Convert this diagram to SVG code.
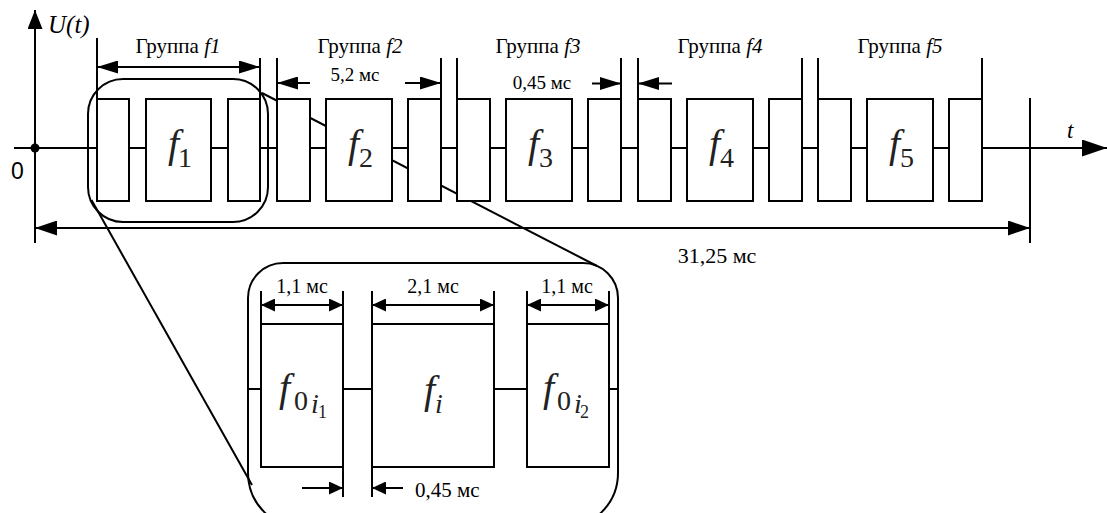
<svg xmlns="http://www.w3.org/2000/svg" width="1107" height="513" viewBox="0 0 1107 513">
<style>
.ln{stroke:#000;stroke-width:2;fill:none}
.bx{stroke:#000;stroke-width:2;fill:#fff}
text{font-family:'Liberation Serif','Times New Roman',serif;fill:#000}
.sans{font-family:'Liberation Sans',Arial,sans-serif}
.it{font-style:italic}
.mth{fill:#222}
</style>
<defs>
<marker id="a21" viewBox="0 0 21 13" refX="21" refY="6.5" markerWidth="21" markerHeight="13" markerUnits="userSpaceOnUse" orient="auto-start-reverse"><path d="M0,0 L21,6.5 L0,13 z"/></marker>
<marker id="a22" viewBox="0 0 22 15" refX="22" refY="7.5" markerWidth="22" markerHeight="15" markerUnits="userSpaceOnUse" orient="auto-start-reverse"><path d="M0,0 L22,7.5 L0,15 z"/></marker>
<marker id="a25" viewBox="0 0 25 17" refX="25" refY="8.5" markerWidth="25" markerHeight="17" markerUnits="userSpaceOnUse" orient="auto-start-reverse"><path d="M0,0 L25,8.5 L0,17 z"/></marker>
<marker id="a19" viewBox="0 0 19 15" refX="19" refY="7.5" markerWidth="19" markerHeight="15" markerUnits="userSpaceOnUse" orient="auto-start-reverse"><path d="M0,0 L19,7.5 L0,15 z"/></marker>
<marker id="a14" viewBox="0 0 14 13" refX="14" refY="6.5" markerWidth="14" markerHeight="13" markerUnits="userSpaceOnUse" orient="auto-start-reverse"><path d="M0,0 L14,6.5 L0,13 z"/></marker>
</defs>
<rect width="1107" height="513" fill="#fff"/>

<g id="axes">
<line class="ln" x1="35" y1="243" x2="35" y2="10" marker-end="url(#a19)"/>
<line class="ln" x1="14" y1="148" x2="1107" y2="148" marker-end="url(#a25)"/>
<circle cx="35" cy="148" r="4.5" fill="#000"/>
<line class="ln" x1="1030" y1="98" x2="1030" y2="243"/>
<text class="it" x="48" y="33" font-size="25">U(t)</text>
<text class="sans" x="11" y="179" font-size="23">0</text>
<text class="it" x="1067" y="138" font-size="23">t</text>
</g>

<g id="connectors">
<line class="ln" x1="262" y1="93" x2="597" y2="266"/>
<line class="ln" x1="91.5" y1="200" x2="252" y2="485"/>
<line class="ln" x1="248" y1="389" x2="618" y2="389"/>
<line class="ln" x1="35" y1="228" x2="1030" y2="228" marker-start="url(#a22)" marker-end="url(#a22)"/>
<line class="ln" x1="97" y1="67" x2="260" y2="67" marker-start="url(#a21)" marker-end="url(#a21)"/>
<line class="ln" x1="310" y1="83" x2="277" y2="83" marker-end="url(#a21)"/>
<line class="ln" x1="405" y1="83" x2="441" y2="83" marker-end="url(#a21)"/>
<line class="ln" x1="592" y1="83.5" x2="621" y2="83.5" marker-end="url(#a21)"/>
<line class="ln" x1="672" y1="83.5" x2="638" y2="83.5" marker-end="url(#a21)"/>
<line class="ln" x1="97" y1="38" x2="97" y2="99"/>
<line class="ln" x1="260" y1="58" x2="260" y2="99"/>
<line class="ln" x1="277" y1="58" x2="277" y2="99"/>
<line class="ln" x1="441" y1="58" x2="441" y2="99"/>
<line class="ln" x1="457" y1="58" x2="457" y2="99"/>
<line class="ln" x1="621" y1="58" x2="621" y2="99"/>
<line class="ln" x1="638" y1="58" x2="638" y2="99"/>
<line class="ln" x1="802" y1="58" x2="802" y2="99"/>
<line class="ln" x1="818" y1="58" x2="818" y2="99"/>
<line class="ln" x1="982" y1="58" x2="982" y2="99"/>
</g>

<g id="group-f1">
<rect class="bx" x="97" y="99" width="32" height="102"/>
<rect class="bx" x="146" y="99" width="65" height="102"/>
<rect class="bx" x="228" y="99" width="32" height="102"/>
<text class="mth it" x="168" y="157" font-size="40">f</text><text class="mth" x="178" y="167" font-size="28">1</text>
<text x="178" y="53" font-size="21" text-anchor="middle">Группа <tspan class="it">f1</tspan></text>
</g>
<g id="group-f2">
<rect class="bx" x="277" y="99" width="33" height="102"/>
<rect class="bx" x="326" y="99" width="66" height="102"/>
<rect class="bx" x="408" y="99" width="33" height="102"/>
<text class="mth it" x="348" y="157" font-size="40">f</text><text class="mth" x="359" y="167" font-size="28">2</text>
<text x="360" y="53" font-size="21" text-anchor="middle">Группа <tspan class="it">f2</tspan></text>
</g>
<g id="group-f3">
<rect class="bx" x="457" y="99" width="33" height="102"/>
<rect class="bx" x="506" y="99" width="66" height="102"/>
<rect class="bx" x="588" y="99" width="33" height="102"/>
<text class="mth it" x="528" y="157" font-size="40">f</text><text class="mth" x="539" y="167" font-size="28">3</text>
<text x="538" y="53" font-size="21" text-anchor="middle">Группа <tspan class="it">f3</tspan></text>
</g>
<g id="group-f4">
<rect class="bx" x="638" y="99" width="33" height="102"/>
<rect class="bx" x="687" y="99" width="66" height="102"/>
<rect class="bx" x="769" y="99" width="33" height="102"/>
<text class="mth it" x="709" y="157" font-size="40">f</text><text class="mth" x="720" y="167" font-size="28">4</text>
<text x="720" y="53" font-size="21" text-anchor="middle">Группа <tspan class="it">f4</tspan></text>
</g>
<g id="group-f5">
<rect class="bx" x="818" y="99" width="33" height="102"/>
<rect class="bx" x="867" y="99" width="66" height="102"/>
<rect class="bx" x="949" y="99" width="33" height="102"/>
<text class="mth it" x="889" y="157" font-size="40">f</text><text class="mth" x="900" y="167" font-size="28">5</text>
<text x="900" y="53" font-size="21" text-anchor="middle">Группа <tspan class="it">f5</tspan></text>
</g>

<g id="dim-labels">
<text x="355" y="81" font-size="19" text-anchor="middle">5,2 мс</text>
<text x="542" y="89" font-size="19" text-anchor="middle">0,45 мс</text>
<text x="717" y="263" font-size="22" text-anchor="middle">31,25 мс</text>
</g>

<g id="zoom-frame">
<rect class="ln" x="88" y="79" width="180" height="143" rx="35"/>
</g>

<g id="detail">
<path class="ln" d="M248,298 A35,35 0 0 1 283,263 L583,263 A35,35 0 0 1 618,298 L618,473 A55,55 0 0 1 563,528 L303,528 A55,55 0 0 1 248,473 Z"/>
<rect class="bx" x="261" y="324" width="82" height="143"/>
<rect class="bx" x="372" y="324" width="122" height="143"/>
<rect class="bx" x="527" y="324" width="82" height="143"/>
<line class="ln" x1="261" y1="291" x2="261" y2="324"/>
<line class="ln" x1="343" y1="291" x2="343" y2="497"/>
<line class="ln" x1="372" y1="291" x2="372" y2="497"/>
<line class="ln" x1="494" y1="291" x2="494" y2="324"/>
<line class="ln" x1="527" y1="291" x2="527" y2="324"/>
<line class="ln" x1="609" y1="291" x2="609" y2="324"/>
<line class="ln" x1="261" y1="305" x2="343" y2="305" marker-start="url(#a14)" marker-end="url(#a14)"/>
<line class="ln" x1="372" y1="305" x2="494" y2="305" marker-start="url(#a14)" marker-end="url(#a14)"/>
<line class="ln" x1="527" y1="305" x2="609" y2="305" marker-start="url(#a14)" marker-end="url(#a14)"/>
<line class="ln" x1="302" y1="488" x2="343" y2="488" marker-end="url(#a14)"/>
<line class="ln" x1="403" y1="488" x2="372" y2="488" marker-end="url(#a14)"/>
<text x="302" y="293" font-size="20" text-anchor="middle">1,1 мс</text>
<text x="433" y="293" font-size="20" text-anchor="middle">2,1 мс</text>
<text x="567" y="293" font-size="20" text-anchor="middle">1,1 мс</text>
<text x="415" y="497" font-size="21">0,45 мс</text>
<text class="mth it" x="279" y="401" font-size="40">f</text><text class="mth" x="294" y="410" font-size="28">0</text><text class="mth it" x="311" y="413" font-size="28">i</text><text class="mth" x="318" y="418" font-size="18">1</text>
<text class="mth it" x="424" y="403" font-size="40">f</text><text class="mth it" x="435" y="413" font-size="28">i</text>
<text class="mth it" x="543" y="401" font-size="40">f</text><text class="mth" x="557" y="410" font-size="28">0</text><text class="mth it" x="574" y="413" font-size="28">i</text><text class="mth" x="580" y="418" font-size="18">2</text>
</g>
</svg>
